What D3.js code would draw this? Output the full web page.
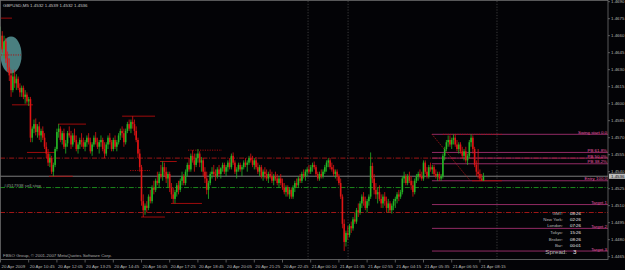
<!DOCTYPE html>
<html><head><meta charset="utf-8">
<script src="https://cdn.jsdelivr.net/npm/d3@7"></script>
<style>html,body{margin:0;padding:0;background:#030306;} svg{display:block}</style>
</head><body>
<svg id="c" width="625" height="270"></svg>
<script>
// ---------- data ----------
const titleText = "GBPUSD,M5  1.4532 1.4539 1.4532 1.4536";
const copyrightText = "FBSO Group, \u00a9 2001-2007 MetaQuotes Software Corp.";
const pipBase = 1.4; // values below are pips above 1.4000
const opens = [650,660,648,655,640,632,625,612,624,618,
622,614,610,614,606,608,602,604,570,578,
582,575,580,572,576,570,562,556,548,552,
540,546,560,575,578,568,574,562,565,574,
572,564,572,568,560,564,568,566,562,566,
570,566,558,564,570,566,562,566,568,560,
556,564,570,566,560,568,562,566,572,576,
574,566,576,582,578,584,582,576,568,556,
544,514,506,510,508,518,514,526,524,532,
530,538,536,544,540,534,538,526,520,516,
522,528,524,532,536,530,540,546,542,554,
550,546,552,556,548,550,540,534,524,530,
538,540,538,536,542,538,543,546,540,544,
548,544,554,548,540,542,546,542,544,548,
546,548,552,550,546,550,544,540,544,536,
540,538,534,538,536,532,536,534,530,534,
530,526,522,526,520,524,518,526,530,528,
534,532,538,536,540,542,540,544,546,544,
538,534,538,536,540,544,548,550,544,542,
538,540,536,530,518,494,478,486,484,492,
490,498,496,506,504,512,518,514,508,514,
518,545,534,524,520,522,516,512,518,514,
508,512,506,510,514,516,520,518,522,534,
536,530,536,532,528,522,532,536,538,536,
534,548,540,536,544,542,544,538,536,538,
534,536,554,560,566,568,564,568,570,564,
560,564,558,554,558,550,554,566,570,560,
546,540,538,534,532];
const highs = [668,664,660,658,646,640,630,628,630,626,
624,618,616,616,612,610,606,606,580,586,
587,582,584,578,580,574,566,560,556,554,
548,562,578,582,580,576,578,568,576,580,
576,574,578,572,566,570,574,570,568,572,
574,570,566,572,575,570,568,572,570,566,
566,572,574,568,570,572,568,574,578,580,
578,578,584,586,586,589,586,580,570,560,
546,520,512,514,520,524,528,532,534,540,
540,546,549,548,544,540,540,530,526,524,
530,532,534,540,538,542,548,552,556,559,
556,556,560,558,553,552,544,540,532,540,
544,546,542,544,546,544,548,548,546,550,
552,556,557,550,544,548,548,546,550,552,
550,554,556,554,552,553,548,546,546,542,
544,542,540,542,540,538,540,538,536,538,
534,530,528,528,526,526,528,532,534,536,
538,540,542,542,544,546,546,548,549,546,
540,540,542,542,546,550,552,552,548,546,
542,542,538,534,520,498,488,492,494,496,
500,504,508,512,514,520,522,518,516,520,
557,548,538,530,526,528,520,520,522,518,
516,514,512,516,518,522,524,524,536,540,
538,538,540,536,532,534,538,540,542,540,
550,550,544,546,548,546,546,542,540,540,
538,556,562,568,572,572,570,573,573,568,
566,566,562,560,562,556,568,573,572,562,
550,560,542,538,539];
const lows = [642,645,640,636,628,620,606,610,614,612,
612,606,606,604,600,600,598,566,566,574,
572,570,568,566,568,560,552,545,544,538,
536,544,558,570,566,564,560,556,562,570,
560,562,566,558,556,560,562,560,558,562,
564,556,554,562,564,560,556,562,558,552,
554,560,564,558,558,560,558,564,568,570,
562,564,574,576,574,578,572,566,552,540,
510,500,502,504,506,512,512,520,522,528,
526,534,532,536,530,526,522,516,512,512,
518,520,522,528,528,528,536,540,540,548,
540,544,548,544,540,536,530,520,516,528,
534,536,532,534,536,534,540,538,536,540,
542,542,546,538,534,540,540,536,542,544,
540,546,548,544,542,542,538,536,534,532,
534,532,530,534,530,528,532,528,526,528,
524,520,518,518,516,516,516,522,526,526,
530,530,534,532,536,538,538,540,542,536,
532,532,534,534,538,540,544,542,540,536,
534,532,528,516,490,470,474,480,482,486,
488,494,494,500,502,508,510,506,504,510,
516,530,520,516,512,514,508,508,510,504,
504,504,503,506,508,512,514,516,520,530,
528,528,530,524,518,520,530,532,534,532,
532,538,534,534,540,538,536,534,532,532,
532,534,550,558,562,562,560,564,562,558,
556,556,552,550,548,546,552,562,556,544,
536,534,532,532,532];
const closes = [660,648,655,640,632,625,612,624,618,622,
614,610,614,606,608,602,604,570,578,582,
575,580,572,576,570,562,556,548,552,540,
546,560,575,578,568,574,562,565,574,572,
564,572,568,560,564,568,566,562,566,570,
566,558,564,570,566,562,566,568,560,556,
564,570,566,560,568,562,566,572,576,574,
566,576,582,578,584,582,576,568,556,544,
514,506,510,508,518,514,526,524,532,530,
538,536,544,540,534,538,526,520,516,522,
528,524,532,536,530,540,546,542,554,550,
546,552,556,548,550,540,534,524,530,538,
540,538,536,542,538,543,546,540,544,548,
544,554,548,540,542,546,542,544,548,546,
548,552,550,546,550,544,540,544,536,540,
538,534,538,536,532,536,534,530,534,530,
526,522,526,520,524,518,526,530,528,534,
532,538,536,540,542,540,544,546,544,538,
534,538,536,540,544,548,550,544,542,538,
540,536,530,518,494,478,486,484,492,490,
498,496,506,504,512,518,514,508,514,518,
545,534,524,520,522,516,512,518,514,508,
512,506,510,514,516,520,518,522,534,536,
530,536,532,528,522,532,536,538,536,534,
548,540,536,544,542,544,538,536,538,534,
536,554,560,566,568,564,568,570,564,560,
564,558,554,558,550,554,566,570,560,546,
540,538,534,532,536];

const timeLabelBars = [0,16,32,48,64,80,96,112,128,144,160,176,192,208,224,240,256,272];
const timeLabels = ["20 Apr 2009","20 Apr 10:45","20 Apr 12:05","20 Apr 13:25","20 Apr 14:45",
 "20 Apr 16:05","20 Apr 17:25","20 Apr 18:45","20 Apr 20:05","20 Apr 21:25","20 Apr 22:45",
 "21 Apr 00:10","21 Apr 01:35","21 Apr 02:55","21 Apr 04:15","21 Apr 05:35","21 Apr 06:55","21 Apr 08:15"];
const priceTicks = [1.4690,1.4675,1.4660,1.4645,1.4630,1.4615,1.4600,1.4585,1.4570,1.4555,1.4540,1.4525,1.4510,1.4495,1.4480,1.4465];
const bidPrice = 1.4536;

// full-width level lines
const levelPrices = [1.4552, 1.4526, 1.4504];
const levelColors = ["#b01818", "#1f9a1f", "#b01818"];
const orderText = "#4517938 sell stop";
const orderPrice = 1.4526;

// short swing lines
const swingStart = [0.3, 6.5, 15, 27.5, 32.6, 69, 73.5, 79.7, 90.5, 96.7, 106.4, 267.5, 0.3, 251];
const swingEnd   = [6.5, 18.4, 31, 41, 48.5, 87.7, 84.8, 93.3, 100, 114.3, 125.7, 284.5, 11.6, 285];
const swingPrice = [1.46755,1.4599,1.4557,1.4536,1.4582,1.4589,1.4541,1.4500,1.4549,1.4512,1.4559,1.4532,1.4643,1.4573];
const swingDotted= [0,0,0,0,0,0,1,0,0,0,1,0,1,1];

// fibonacci
const fibNames = ["Swing start 0.0","PB 61.8%","PB 50.0%","PB 38.2%","Entry 100.0","Target 1","Target 2","Target 3"];
const fibPrices = [1.4573,1.4557,1.4552,1.4547,1.4532,1.4511,1.4490,1.4470];
const fibStartBar = 244.8;
const fibTrendBars = [244.8, 266.5];
const fibTrendPrices = [1.4573, 1.4532];

// vertical dotted lines (bar positions)
const vLineBars = [174.5, 197.2, 281.7];

// ellipse object
const ellipseBar = 6.0, ellipsePrice = 1.4643;

// info panel
const infoLabels = ["GMT:","New York:","London:","Tokyo:","Broker:","Bar:"];
const infoValues = ["08:26","02:26","07:26","15:26","08:26","00:01"];
const spreadLabel = "Spread:", spreadValue = "3";

// ---------- drawing ----------
const svg = d3.select("#c");
const W = 625, H = 270, plotR = 608, plotB = 259.5;
const FONT = "Liberation Sans, Arial, sans-serif";
const fs = 4.4;
const P = v => pipBase + v / 10000;

const x = d3.scaleLinear().domain([0, 274]).range([0.5, 0.5 + 274 * 1.7625]);
const y = d3.scaleLinear().domain([1.4465, 1.4690]).range([256.7, 1.7]);

svg.append("rect").attr("width", W).attr("height", H).attr("fill", "#030306");

const plot = svg.append("g");
svg.append("clipPath").attr("id", "pc").append("rect")
  .attr("x", 0).attr("y", 0).attr("width", plotR).attr("height", plotB);
plot.attr("clip-path", "url(#pc)");

plot.selectAll(".vl").data(vLineBars).join("line")
  .attr("x1", d => x(d)).attr("x2", d => x(d)).attr("y1", 1).attr("y2", plotB)
  .attr("stroke", "#4a4a4a").attr("stroke-width", 0.8).attr("stroke-dasharray", "1.2,1.6");

plot.append("ellipse").attr("cx", x(ellipseBar)).attr("cy", y(ellipsePrice))
  .attr("rx", 10.5).attr("ry", 18.5).attr("fill", "#4a7f80");

plot.selectAll(".lv").data(levelPrices).join("line")
  .attr("x1", 0).attr("x2", plotR).attr("y1", d => y(d)).attr("y2", d => y(d))
  .attr("stroke", (d, i) => levelColors[i]).attr("stroke-width", 0.9)
  .attr("stroke-dasharray", "5,1.6,1,1.6");

plot.append("line").attr("x1", 0).attr("x2", plotR).attr("y1", y(bidPrice)).attr("y2", y(bidPrice))
  .attr("stroke", "#8a8a8a").attr("stroke-width", 0.9);

plot.selectAll(".fl").data(fibPrices).join("line")
  .attr("x1", x(fibStartBar)).attr("x2", plotR).attr("y1", d => y(d)).attr("y2", d => y(d))
  .attr("stroke", "#a3306f").attr("stroke-width", 0.9);
plot.append("line")
  .attr("x1", x(fibTrendBars[0])).attr("y1", y(fibTrendPrices[0]))
  .attr("x2", x(fibTrendBars[1])).attr("y2", y(fibTrendPrices[1]))
  .attr("stroke", "#c01818").attr("stroke-width", 0.9).attr("stroke-dasharray", "1.2,1.4");

plot.selectAll(".sw").data(swingPrice).join("line")
  .attr("x1", (d, i) => x(swingStart[i])).attr("x2", (d, i) => x(swingEnd[i]))
  .attr("y1", d => y(d)).attr("y2", d => y(d))
  .attr("stroke", "#b00c0c").attr("stroke-width", 0.9)
  .attr("stroke-dasharray", (d, i) => swingDotted[i] ? "1.2,1.2" : null);

const idx = d3.range(opens.length);
const bull = "#25b525", bear = "#de1414";
const col = i => closes[i] >= opens[i] ? bull : bear;
plot.selectAll(".wk").data(idx).join("line")
  .attr("x1", i => x(i)).attr("x2", i => x(i))
  .attr("y1", i => y(P(highs[i]))).attr("y2", i => y(P(lows[i])))
  .attr("stroke", col).attr("stroke-width", 0.8);
plot.selectAll(".bd").data(idx).join("rect")
  .attr("x", i => x(i) - 0.8).attr("width", 1.6)
  .attr("y", i => y(P(Math.max(opens[i], closes[i]))))
  .attr("height", i => Math.max(0.8, Math.abs(y(P(opens[i])) - y(P(closes[i])))))
  .attr("fill", col);

svg.append("rect").attr("x", 0.5).attr("y", 0.5).attr("width", plotR - 0.5).attr("height", plotB - 0.5)
  .attr("fill", "none").attr("stroke", "#6e6e6e").attr("stroke-width", 0.8);

svg.append("text").attr("x", 3).attr("y", 6.5).text(titleText)
  .attr("font-family", FONT).attr("font-size", fs).attr("fill", "#c8c8c8");
svg.append("text").attr("x", 3).attr("y", 256.5).text(copyrightText)
  .attr("font-family", FONT).attr("font-size", fs).attr("fill", "#a8a8a8");
svg.append("text").attr("x", 4).attr("y", y(orderPrice) - 0.6).text(orderText)
  .attr("font-family", FONT).attr("font-size", fs).attr("fill", "#8e9a8e");

svg.selectAll(".fx").data(fibNames).join("text")
  .attr("x", plotR - 1).attr("y", (d, i) => y(fibPrices[i]) - 0.5)
  .attr("text-anchor", "end").text(d => d)
  .attr("font-family", FONT).attr("font-size", fs).attr("fill", "#e45aa8");

const rowY = [214.8, 220.8, 227.2, 234.2, 240.8, 247.2];
svg.selectAll(".il").data(infoLabels).join("text")
  .attr("x", 563).attr("y", (d, i) => rowY[i]).attr("text-anchor", "end").text(d => d)
  .attr("font-family", FONT).attr("font-size", fs).attr("fill", "#b8b8b8");
svg.selectAll(".iv").data(infoValues).join("text")
  .attr("x", 570).attr("y", (d, i) => rowY[i]).text(d => d)
  .attr("font-family", FONT).attr("font-size", fs).attr("fill", "#f0f0f0");
svg.append("text").attr("x", 567).attr("y", 254.4).attr("text-anchor", "end").text(spreadLabel)
  .attr("font-family", FONT).attr("font-size", 6.2).attr("fill", "#b8b8b8");
svg.append("text").attr("x", 573).attr("y", 254.4).text(spreadValue)
  .attr("font-family", FONT).attr("font-size", 6.2).attr("fill", "#f0f0f0");

svg.selectAll(".pt").data(priceTicks).join("line")
  .attr("x1", plotR).attr("x2", plotR + 2).attr("y1", d => y(d)).attr("y2", d => y(d))
  .attr("stroke", "#6e6e6e").attr("stroke-width", 0.8);
svg.selectAll(".pl").data(priceTicks).join("text")
  .attr("x", plotR + 3).attr("y", d => y(d) + 1.5).text(d => d.toFixed(4))
  .attr("font-family", FONT).attr("font-size", fs).attr("fill", "#b4b4b4");
svg.append("rect").attr("x", plotR + 1).attr("y", y(bidPrice) - 2.6).attr("width", 16.5).attr("height", 5.2)
  .attr("fill", "#bdbdbd");
svg.append("text").attr("x", plotR + 3).attr("y", y(bidPrice) + 1.5).text(bidPrice.toFixed(4))
  .attr("font-family", FONT).attr("font-size", fs).attr("fill", "#111");

svg.selectAll(".tt").data(timeLabelBars).join("line")
  .attr("x1", d => x(d)).attr("x2", d => x(d)).attr("y1", plotB).attr("y2", plotB + 3)
  .attr("stroke", "#6e6e6e").attr("stroke-width", 0.8);
svg.selectAll(".tl").data(timeLabels).join("text")
  .attr("x", (d, i) => x(timeLabelBars[i]) + 1).attr("y", 267.5).text(d => d)
  .attr("font-family", FONT).attr("font-size", fs).attr("fill", "#b4b4b4");
</script>
</body></html>
